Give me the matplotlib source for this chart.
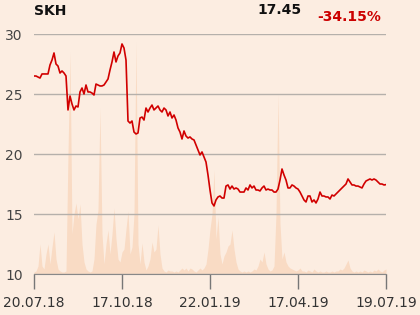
import numpy as np
import matplotlib
matplotlib.use("Agg")
import matplotlib.pyplot as plt

# closing prices, roughly every second trading day, 20.07.18 - 19.07.19
prices = [
    26.50, 26.50, 26.42, 26.33, 26.67, 26.67, 26.67, 26.67, 27.42, 27.83,
    28.42, 27.50, 27.33, 26.75, 26.92, 26.75, 26.50, 23.67, 24.83, 24.17,
    23.67, 24.00, 23.92, 25.17, 25.50, 25.00, 25.75, 25.17, 25.17, 25.08,
    24.92, 25.83, 25.75, 25.67, 25.67, 25.75, 26.00, 26.25, 27.00, 27.67,
    28.50, 27.67, 28.17, 28.42, 29.17, 28.83, 27.83, 22.75, 22.58, 22.75,
    21.83, 21.67, 21.75, 23.00, 23.08, 22.83, 23.83, 23.50, 23.83, 24.08,
    23.67, 23.83, 24.00, 23.67, 23.50, 23.83, 23.67, 23.17, 23.50, 23.00,
    23.25, 22.83, 22.17, 21.83, 21.25, 21.92, 21.50, 21.33, 21.42, 21.25,
    21.17, 20.75, 20.33, 19.92, 20.17, 19.75, 19.33, 18.25, 17.00, 15.92,
    15.67, 16.17, 16.42, 16.50, 16.33, 16.33, 17.33, 17.42, 17.08, 17.33,
    17.08, 17.17, 17.08, 16.83, 16.83, 16.83, 17.17, 17.00, 17.42, 17.17,
    17.33, 17.00, 17.00, 16.92, 17.17, 17.33, 17.00, 17.08, 17.00, 17.00,
    16.83, 16.83, 17.08, 17.83, 18.75, 18.25, 17.83, 17.17, 17.17, 17.42,
    17.33, 17.17, 17.08, 16.83, 16.50, 16.17, 16.00, 16.50, 16.50, 16.00,
    16.17, 15.92, 16.25, 16.83, 16.50, 16.50, 16.42, 16.42, 16.25, 16.58,
    16.50, 16.67, 16.83, 17.00, 17.17, 17.33, 17.50, 17.92, 17.67, 17.42,
    17.42, 17.33, 17.33, 17.25, 17.17, 17.50, 17.75, 17.83, 17.92, 17.83,
    17.92, 17.83, 17.67, 17.50, 17.50, 17.42, 17.45,
]

# traded volume (relative units)
volume = [
    2, 3, 8, 30, 8, 5, 20, 30, 10, 27,
    42, 15, 5, 3, 2, 2, 3, 120, 222, 40,
    60, 71, 55, 70, 30, 12, 5, 3, 2, 3,
    15, 50, 64, 166, 40, 10, 30, 44, 20, 40,
    66, 35, 15, 12, 22, 25, 45, 63, 20, 27,
    60, 232, 30, 10, 31, 12, 4, 8, 15, 32,
    22, 25, 49, 20, 6, 3, 2, 4, 3, 3,
    2, 3, 2, 4, 6, 4, 6, 3, 6, 5,
    3, 2, 4, 6, 4, 6, 10, 25, 45, 60,
    104, 35, 57, 20, 10, 18, 22, 28, 30, 44,
    25, 12, 5, 3, 2, 3, 2, 3, 2, 3,
    5, 4, 8, 15, 12, 22, 10, 5, 3, 4,
    8, 60, 180, 50, 15, 22, 12, 8, 6, 5,
    4, 3, 4, 6, 3, 3, 2, 4, 3, 2,
    5, 3, 2, 3, 2, 2, 3, 2, 2, 3,
    2, 3, 3, 5, 4, 6, 10, 14, 6, 3,
    2, 3, 2, 3, 2, 4, 3, 2, 3, 2,
    4, 3, 5, 3, 2, 4, 5,
]

date_labels = ["20.07.18", "17.10.18", "22.01.19", "17.04.19", "19.07.19"]
y_ticks = [10, 15, 20, 25, 30]

ticker = "SKH"
last_price = prices[-1]
change = (prices[-1] / prices[0] - 1) * 100

bg = "#fcede1"
red = "#d10000"

fig = plt.figure(figsize=(4.2, 3.15), dpi=100, facecolor=bg)
ax = fig.add_axes([34 / 420, 41 / 315, 352 / 420, 240 / 315])
ax.set_facecolor("none")

x = np.arange(len(prices))

# volume on a hidden second axis behind the price line
axv = ax.twinx()
axv.set_zorder(0)
ax.set_zorder(1)
axv.fill_between(x, volume, 0, color="#f9dbc4", linewidth=0)
axv.set_ylim(0, 240)
axv.axis("off")

ax.plot(x, prices, color=red, linewidth=1.2, zorder=3)
ax.set_xlim(0, len(prices) - 1)
ax.set_ylim(10, 30)

ax.set_yticks(y_ticks)
ax.grid(axis="y", color="#b5b0ab", linewidth=1)
ax.tick_params(axis="y", length=0, pad=8, labelsize=10, labelcolor="#444444")

ax.set_xticks(np.linspace(0, len(prices) - 1, len(date_labels)))
ax.set_xticklabels(date_labels)
ax.tick_params(axis="x", length=11, width=1, color="#777777", pad=5,
               labelsize=10, labelcolor="#333333")

for s in ["top", "right", "left"]:
    ax.spines[s].set_visible(False)
ax.spines["bottom"].set_color("#888888")

fig.text(34 / 420, 1 - 11 / 315, ticker, fontsize=10, fontweight="bold",
         va="center", ha="left", color="#111111")
fig.text(302 / 420, 1 - 10 / 315, f"{last_price:.2f}", fontsize=10,
         fontweight="bold", va="center", ha="right", color="#111111")
fig.text(381 / 420, 1 - 17 / 315, f"{change:.2f}%", fontsize=10,
         fontweight="bold", va="center", ha="right", color="#cc0000")

fig.savefig("out.png", dpi=100, facecolor=bg)
